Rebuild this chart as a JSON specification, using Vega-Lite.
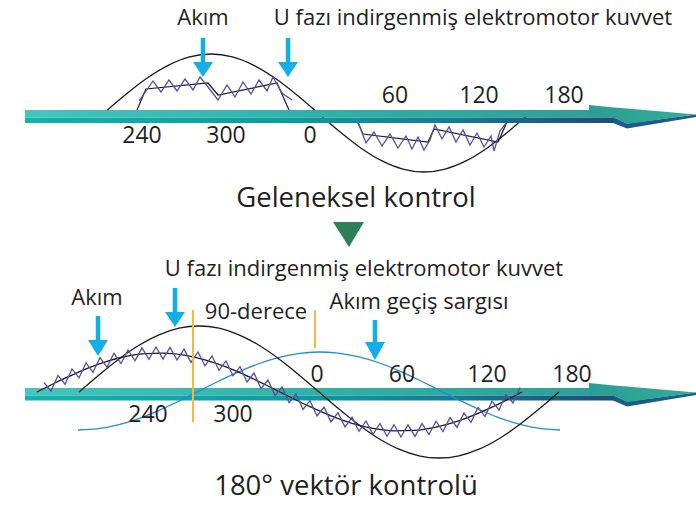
{
  "$schema": "https://vega.github.io/schema/vega-lite/v6.json",
  "width": 696,
  "height": 506,
  "autosize": {"type": "fit", "contains": "padding"},
  "padding": 0,
  "background": "white",
  "config": {"view": {"stroke": null}},
  "datasets": {
    "topEmf": [
      {"x": 104, "y": 113}, {"x": 125.4, "y": 94.8}, {"x": 146.8, "y": 78.3}, {"x": 168.2, "y": 65.3}, {"x": 189.6, "y": 56.9},
      {"x": 211, "y": 54}, {"x": 232.4, "y": 56.9}, {"x": 253.8, "y": 65.3}, {"x": 275.2, "y": 78.3}, {"x": 296.6, "y": 94.8},
      {"x": 318, "y": 113}, {"x": 339.2, "y": 131.2}, {"x": 360.4, "y": 147.7}, {"x": 381.6, "y": 160.7}, {"x": 402.8, "y": 169.1},
      {"x": 424, "y": 172}, {"x": 445.2, "y": 169.1}, {"x": 466.4, "y": 160.7}, {"x": 487.6, "y": 147.7}, {"x": 508.8, "y": 131.2},
      {"x": 530, "y": 113}
    ],
    "poly": [
      {"s": "L", "x": 137, "y": 110}, {"s": "L", "x": 146, "y": 89}, {"s": "L", "x": 208, "y": 83}, {"s": "L", "x": 218, "y": 95},
      {"s": "L", "x": 277, "y": 83}, {"s": "L", "x": 289, "y": 110},
      {"s": "R", "x": 358, "y": 123}, {"s": "R", "x": 363, "y": 134}, {"s": "R", "x": 428, "y": 142}, {"s": "R", "x": 434, "y": 129},
      {"s": "R", "x": 498, "y": 142}, {"s": "R", "x": 507, "y": 122}
    ],
    "zigTop": [
      {"s": "L", "x": 139, "y": 101}, {"s": "L", "x": 153, "y": 81}, {"s": "L", "x": 161, "y": 92}, {"s": "L", "x": 169, "y": 80},
      {"s": "L", "x": 177, "y": 91}, {"s": "L", "x": 185, "y": 79}, {"s": "L", "x": 193, "y": 90}, {"s": "L", "x": 200, "y": 77},
      {"s": "L", "x": 208, "y": 87}, {"s": "L", "x": 218, "y": 100}, {"s": "L", "x": 227, "y": 85}, {"s": "L", "x": 235, "y": 97},
      {"s": "L", "x": 243, "y": 82}, {"s": "L", "x": 251, "y": 94}, {"s": "L", "x": 259, "y": 80}, {"s": "L", "x": 267, "y": 91},
      {"s": "L", "x": 273, "y": 77}, {"s": "L", "x": 282, "y": 93}, {"s": "L", "x": 292, "y": 100},
      {"s": "R", "x": 358, "y": 122}, {"s": "R", "x": 366, "y": 143}, {"s": "R", "x": 374, "y": 132}, {"s": "R", "x": 382, "y": 146},
      {"s": "R", "x": 390, "y": 134}, {"s": "R", "x": 398, "y": 148}, {"s": "R", "x": 406, "y": 136}, {"s": "R", "x": 412, "y": 149},
      {"s": "R", "x": 418, "y": 137}, {"s": "R", "x": 424, "y": 150}, {"s": "R", "x": 430, "y": 140}, {"s": "R", "x": 435, "y": 125},
      {"s": "R", "x": 442, "y": 139}, {"s": "R", "x": 449, "y": 127}, {"s": "R", "x": 456, "y": 142}, {"s": "R", "x": 463, "y": 130},
      {"s": "R", "x": 470, "y": 145}, {"s": "R", "x": 477, "y": 133}, {"s": "R", "x": 484, "y": 147}, {"s": "R", "x": 491, "y": 136},
      {"s": "R", "x": 494, "y": 151}, {"s": "R", "x": 500, "y": 131}, {"s": "R", "x": 507, "y": 122}
    ],
    "bands": [
      {"x": 25, "x2": 616, "y": 110, "y2": 117.5},
      {"x": 25, "x2": 616, "y": 388, "y2": 395.5}
    ],
    "stripes": [
      {"x": 25, "x2": 614, "y": 117.5, "y2": 123},
      {"x": 25, "x2": 614, "y": 395.5, "y2": 400.5}
    ],
    "headDark": [
      {"p": "T", "x": 613, "y": 117, "y2": 123}, {"p": "T", "x": 627, "y": 123.5, "y2": 128.5}, {"p": "T", "x": 696, "y": 114.5, "y2": 117},
      {"p": "B", "x": 613, "y": 395, "y2": 400.5}, {"p": "B", "x": 627, "y": 401.5, "y2": 406.5}, {"p": "B", "x": 696, "y": 392.5, "y2": 395}
    ],
    "headTeal": [
      {"p": "T", "x": 589, "y": 105, "y2": 117.5}, {"p": "T", "x": 614, "y": 107.4, "y2": 117.5}, {"p": "T", "x": 627, "y": 108.6, "y2": 124}, {"p": "T", "x": 696, "y": 114.5, "y2": 114.5},
      {"p": "B", "x": 589, "y": 383, "y2": 395.5}, {"p": "B", "x": 614, "y": 385.4, "y2": 395.5}, {"p": "B", "x": 627, "y": 386.6, "y2": 402}, {"p": "B", "x": 696, "y": 392.5, "y2": 392.5}
    ],
    "blueCurve": [
      {"x": 78, "y": 430}, {"x": 98, "y": 428.7}, {"x": 118, "y": 424.8}, {"x": 138, "y": 418.8}, {"x": 158, "y": 410.8},
      {"x": 178, "y": 401.5}, {"x": 198, "y": 391.5}, {"x": 218, "y": 381.5}, {"x": 238, "y": 372.1}, {"x": 258, "y": 364},
      {"x": 278, "y": 357.7}, {"x": 298, "y": 353.6}, {"x": 318, "y": 352}, {"x": 338, "y": 353.1}, {"x": 358, "y": 356.7},
      {"x": 378, "y": 362.5}, {"x": 398, "y": 370.3}, {"x": 418, "y": 379.5}, {"x": 438, "y": 389.5}, {"x": 458, "y": 399.5},
      {"x": 478, "y": 409}, {"x": 498, "y": 417.3}, {"x": 518, "y": 423.8}, {"x": 538, "y": 428.1}, {"x": 560, "y": 430}
    ],
    "botCurves": [
      {"s": "emf", "x": 79, "y": 392}, {"s": "emf", "x": 99, "y": 374.9}, {"s": "emf", "x": 119, "y": 359}, {"s": "emf", "x": 139, "y": 345.3},
      {"s": "emf", "x": 159, "y": 334.8}, {"s": "emf", "x": 179, "y": 328.2}, {"s": "emf", "x": 199, "y": 326}, {"s": "emf", "x": 219, "y": 328.2},
      {"s": "emf", "x": 239, "y": 334.8}, {"s": "emf", "x": 259, "y": 345.3}, {"s": "emf", "x": 279, "y": 359}, {"s": "emf", "x": 299, "y": 374.9},
      {"s": "emf", "x": 319, "y": 392}, {"s": "emf", "x": 339, "y": 409.1}, {"s": "emf", "x": 359, "y": 425}, {"s": "emf", "x": 379, "y": 438.7},
      {"s": "emf", "x": 399, "y": 449.2}, {"s": "emf", "x": 419, "y": 455.8}, {"s": "emf", "x": 439, "y": 458}, {"s": "emf", "x": 459, "y": 455.8},
      {"s": "emf", "x": 479, "y": 449.2}, {"s": "emf", "x": 499, "y": 438.7}, {"s": "emf", "x": 519, "y": 425}, {"s": "emf", "x": 539, "y": 409.1},
      {"s": "emf", "x": 559, "y": 392},
      {"s": "cur", "x": 37, "y": 392}, {"s": "cur", "x": 51, "y": 385}, {"s": "cur", "x": 65, "y": 378.2}, {"s": "cur", "x": 79, "y": 371.8},
      {"s": "cur", "x": 100, "y": 363.6}, {"s": "cur", "x": 121, "y": 357.5}, {"s": "cur", "x": 142, "y": 353.9}, {"s": "cur", "x": 163, "y": 353.1},
      {"s": "cur", "x": 184, "y": 355.1}, {"s": "cur", "x": 205, "y": 359.8}, {"s": "cur", "x": 226, "y": 366.9}, {"s": "cur", "x": 247, "y": 375.9},
      {"s": "cur", "x": 268, "y": 386}, {"s": "cur", "x": 289, "y": 396.5}, {"s": "cur", "x": 310, "y": 406.7}, {"s": "cur", "x": 331, "y": 415.9},
      {"s": "cur", "x": 352, "y": 423.3}, {"s": "cur", "x": 373, "y": 428.4}, {"s": "cur", "x": 394, "y": 430.8}, {"s": "cur", "x": 415, "y": 430.4},
      {"s": "cur", "x": 436, "y": 427.2}, {"s": "cur", "x": 457, "y": 421.4}, {"s": "cur", "x": 478, "y": 413.4}, {"s": "cur", "x": 499, "y": 403.9},
      {"s": "cur", "x": 522, "y": 392}
    ],
    "zigBot": [
      {"x": 44, "y": 382.5}, {"x": 51, "y": 391}, {"x": 58, "y": 375.5}, {"x": 65, "y": 384.2}, {"x": 72, "y": 368.9},
      {"x": 79, "y": 377.8}, {"x": 86, "y": 362.9}, {"x": 93, "y": 372.2}, {"x": 100, "y": 357.6}, {"x": 107, "y": 367.3},
      {"x": 114, "y": 353.3}, {"x": 121, "y": 363.5}, {"x": 128, "y": 350}, {"x": 135, "y": 360.8}, {"x": 142, "y": 347.9},
      {"x": 149, "y": 359.3}, {"x": 156, "y": 347}, {"x": 163, "y": 359.1}, {"x": 170, "y": 347.4}, {"x": 177, "y": 360.1},
      {"x": 184, "y": 349.1}, {"x": 191, "y": 362.4}, {"x": 198, "y": 352}, {"x": 205, "y": 365.8}, {"x": 212, "y": 356},
      {"x": 219, "y": 370.3}, {"x": 226, "y": 360.9}, {"x": 233, "y": 375.7}, {"x": 240, "y": 366.7}, {"x": 247, "y": 381.9},
      {"x": 254, "y": 373.1}, {"x": 261, "y": 388.5}, {"x": 268, "y": 380}, {"x": 275, "y": 395.5}, {"x": 282, "y": 387},
      {"x": 289, "y": 402.5}, {"x": 296, "y": 394}, {"x": 303, "y": 409.4}, {"x": 310, "y": 400.7}, {"x": 317, "y": 415.9},
      {"x": 324, "y": 407}, {"x": 331, "y": 421.9}, {"x": 338, "y": 412.6}, {"x": 345, "y": 427.1}, {"x": 352, "y": 417.3},
      {"x": 359, "y": 431.3}, {"x": 366, "y": 421}, {"x": 373, "y": 434.4}, {"x": 380, "y": 423.5}, {"x": 387, "y": 436.3},
      {"x": 394, "y": 424.8}, {"x": 401, "y": 437}, {"x": 408, "y": 424.8}, {"x": 415, "y": 436.4}, {"x": 422, "y": 423.6},
      {"x": 429, "y": 434.5}, {"x": 436, "y": 421.2}, {"x": 443, "y": 431.5}, {"x": 450, "y": 417.6}, {"x": 457, "y": 427.4},
      {"x": 464, "y": 412.9}, {"x": 471, "y": 422.3}, {"x": 478, "y": 407.4}, {"x": 485, "y": 416.4}, {"x": 492, "y": 401.2},
      {"x": 499, "y": 409.9}, {"x": 506, "y": 394.5}, {"x": 513, "y": 403}, {"x": 520, "y": 387.5}
    ],
    "orange": [
      {"x": 193, "y": 310, "y2": 422},
      {"x": 315, "y": 310, "y2": 348}
    ],
    "shafts": [
      {"x": 203, "y": 38, "y2": 63},
      {"x": 288, "y": 38, "y2": 63},
      {"x": 98, "y": 316, "y2": 341},
      {"x": 175, "y": 288, "y2": 313},
      {"x": 375, "y": 320, "y2": 343}
    ],
    "heads": [
      {"a": 1, "x": 193, "y": 62, "y2": 62}, {"a": 1, "x": 203, "y": 62, "y2": 77}, {"a": 1, "x": 213, "y": 62, "y2": 62},
      {"a": 2, "x": 278, "y": 62, "y2": 62}, {"a": 2, "x": 288, "y": 62, "y2": 77}, {"a": 2, "x": 298, "y": 62, "y2": 62},
      {"a": 3, "x": 88, "y": 340, "y2": 340}, {"a": 3, "x": 98, "y": 340, "y2": 356}, {"a": 3, "x": 108, "y": 340, "y2": 340},
      {"a": 4, "x": 165, "y": 312, "y2": 312}, {"a": 4, "x": 175, "y": 312, "y2": 327}, {"a": 4, "x": 185, "y": 312, "y2": 312},
      {"a": 5, "x": 365, "y": 342, "y2": 342}, {"a": 5, "x": 375, "y": 342, "y2": 360}, {"a": 5, "x": 385, "y": 342, "y2": 342}
    ],
    "tri": [
      {"x": 333, "y": 222, "y2": 222}, {"x": 349, "y": 222, "y2": 247}, {"x": 364, "y": 222, "y2": 222}
    ],
    "labels": [
      {"t": "Akım", "x": 203, "y": 25},
      {"t": "U fazı indirgenmiş elektromotor kuvvet", "x": 473, "y": 25},
      {"t": "Akım", "x": 97, "y": 305},
      {"t": "U fazı indirgenmiş elektromotor kuvvet", "x": 364, "y": 276},
      {"t": "90-derece", "x": 256, "y": 319},
      {"t": "Akım geçiş sargısı", "x": 419, "y": 309}
    ],
    "ticks": [
      {"t": "240", "x": 142, "y": 143}, {"t": "300", "x": 226, "y": 143}, {"t": "0", "x": 310, "y": 143},
      {"t": "60", "x": 395, "y": 103}, {"t": "120", "x": 479, "y": 103}, {"t": "180", "x": 564, "y": 103},
      {"t": "240", "x": 148, "y": 422}, {"t": "300", "x": 233, "y": 422}, {"t": "0", "x": 317, "y": 382},
      {"t": "60", "x": 402, "y": 382}, {"t": "120", "x": 487, "y": 382}, {"t": "180", "x": 572, "y": 382}
    ],
    "titles": [
      {"t": "Geleneksel kontrol", "x": 356, "y": 207},
      {"t": "180° vektör kontrolü", "x": 346, "y": 495}
    ]
  },
  "encoding": {
    "x": {"field": "x", "type": "quantitative", "scale": {"domain": [0, 696], "nice": false, "zero": false}, "axis": null},
    "y": {"field": "y", "type": "quantitative", "scale": {"domain": [0, 506], "reverse": true, "nice": false, "zero": false}, "axis": null, "stack": null}
  },
  "layer": [
    {"data": {"name": "topEmf"}, "mark": {"type": "line", "interpolate": "monotone", "color": "#1a1a1a", "strokeWidth": 1.3}},
    {"data": {"name": "poly"}, "mark": {"type": "line", "color": "#1a1a1a", "strokeWidth": 1.2}, "encoding": {"detail": {"field": "s"}}},
    {"data": {"name": "zigTop"}, "mark": {"type": "line", "color": "#5a4ea6", "strokeWidth": 1.3}, "encoding": {"detail": {"field": "s"}}},
    {"data": {"name": "bands"}, "mark": {"type": "rect", "color": {"gradient": "linear", "x1": 0, "y1": 0, "x2": 1, "y2": 0, "stops": [{"offset": 0, "color": "#48c3be"}, {"offset": 0.5, "color": "#30b0a8"}, {"offset": 1, "color": "#2e9f95"}]}}, "encoding": {"x2": {"field": "x2"}, "y2": {"field": "y2"}}},
    {"data": {"name": "stripes"}, "mark": {"type": "rect", "color": {"gradient": "linear", "x1": 0, "y1": 0, "x2": 1, "y2": 0, "stops": [{"offset": 0, "color": "#0fb5ae"}, {"offset": 0.45, "color": "#0d9ba3"}, {"offset": 0.7, "color": "#157f94"}, {"offset": 1, "color": "#1f4c78"}]}}, "encoding": {"x2": {"field": "x2"}, "y2": {"field": "y2"}}},
    {"data": {"name": "headDark"}, "mark": {"type": "area", "color": "#1f5b88"}, "encoding": {"y2": {"field": "y2"}, "detail": {"field": "p"}}},
    {"data": {"name": "headTeal"}, "mark": {"type": "area", "color": {"gradient": "linear", "x1": 0, "y1": 0, "x2": 1, "y2": 0, "stops": [{"offset": 0, "color": "#2b9e93"}, {"offset": 1, "color": "#32ad98"}]}}, "encoding": {"y2": {"field": "y2"}, "detail": {"field": "p"}}},
    {"data": {"name": "blueCurve"}, "mark": {"type": "line", "interpolate": "monotone", "color": "#1b8fd6", "strokeWidth": 1.3}},
    {"data": {"name": "botCurves"}, "mark": {"type": "line", "interpolate": "monotone", "color": "#1a1a1a", "strokeWidth": 1.3}, "encoding": {"detail": {"field": "s"}}},
    {"data": {"name": "zigBot"}, "mark": {"type": "line", "color": "#5a4ea6", "strokeWidth": 1.3}},
    {"data": {"name": "orange"}, "mark": {"type": "rule", "color": "#f7b54e", "strokeWidth": 2}, "encoding": {"y2": {"field": "y2"}}},
    {"data": {"name": "shafts"}, "mark": {"type": "rule", "color": "#12aee8", "strokeWidth": 4.5}, "encoding": {"y2": {"field": "y2"}}},
    {"data": {"name": "heads"}, "mark": {"type": "area", "color": "#12aee8"}, "encoding": {"y2": {"field": "y2"}, "detail": {"field": "a"}}},
    {"data": {"name": "tri"}, "mark": {"type": "area", "color": "#2e7f5c"}, "encoding": {"y2": {"field": "y2"}}},
    {"data": {"name": "labels"}, "mark": {"type": "text", "font": "Open Sans", "fontSize": 22, "align": "center", "baseline": "alphabetic", "color": "#231f20"}, "encoding": {"text": {"field": "t"}}},
    {"data": {"name": "ticks"}, "mark": {"type": "text", "font": "Open Sans", "fontSize": 23, "align": "center", "baseline": "alphabetic", "color": "#231f20"}, "encoding": {"text": {"field": "t"}}},
    {"data": {"name": "titles"}, "mark": {"type": "text", "font": "Open Sans", "fontSize": 27.5, "align": "center", "baseline": "alphabetic", "color": "#231f20"}, "encoding": {"text": {"field": "t"}}}
  ]
}
